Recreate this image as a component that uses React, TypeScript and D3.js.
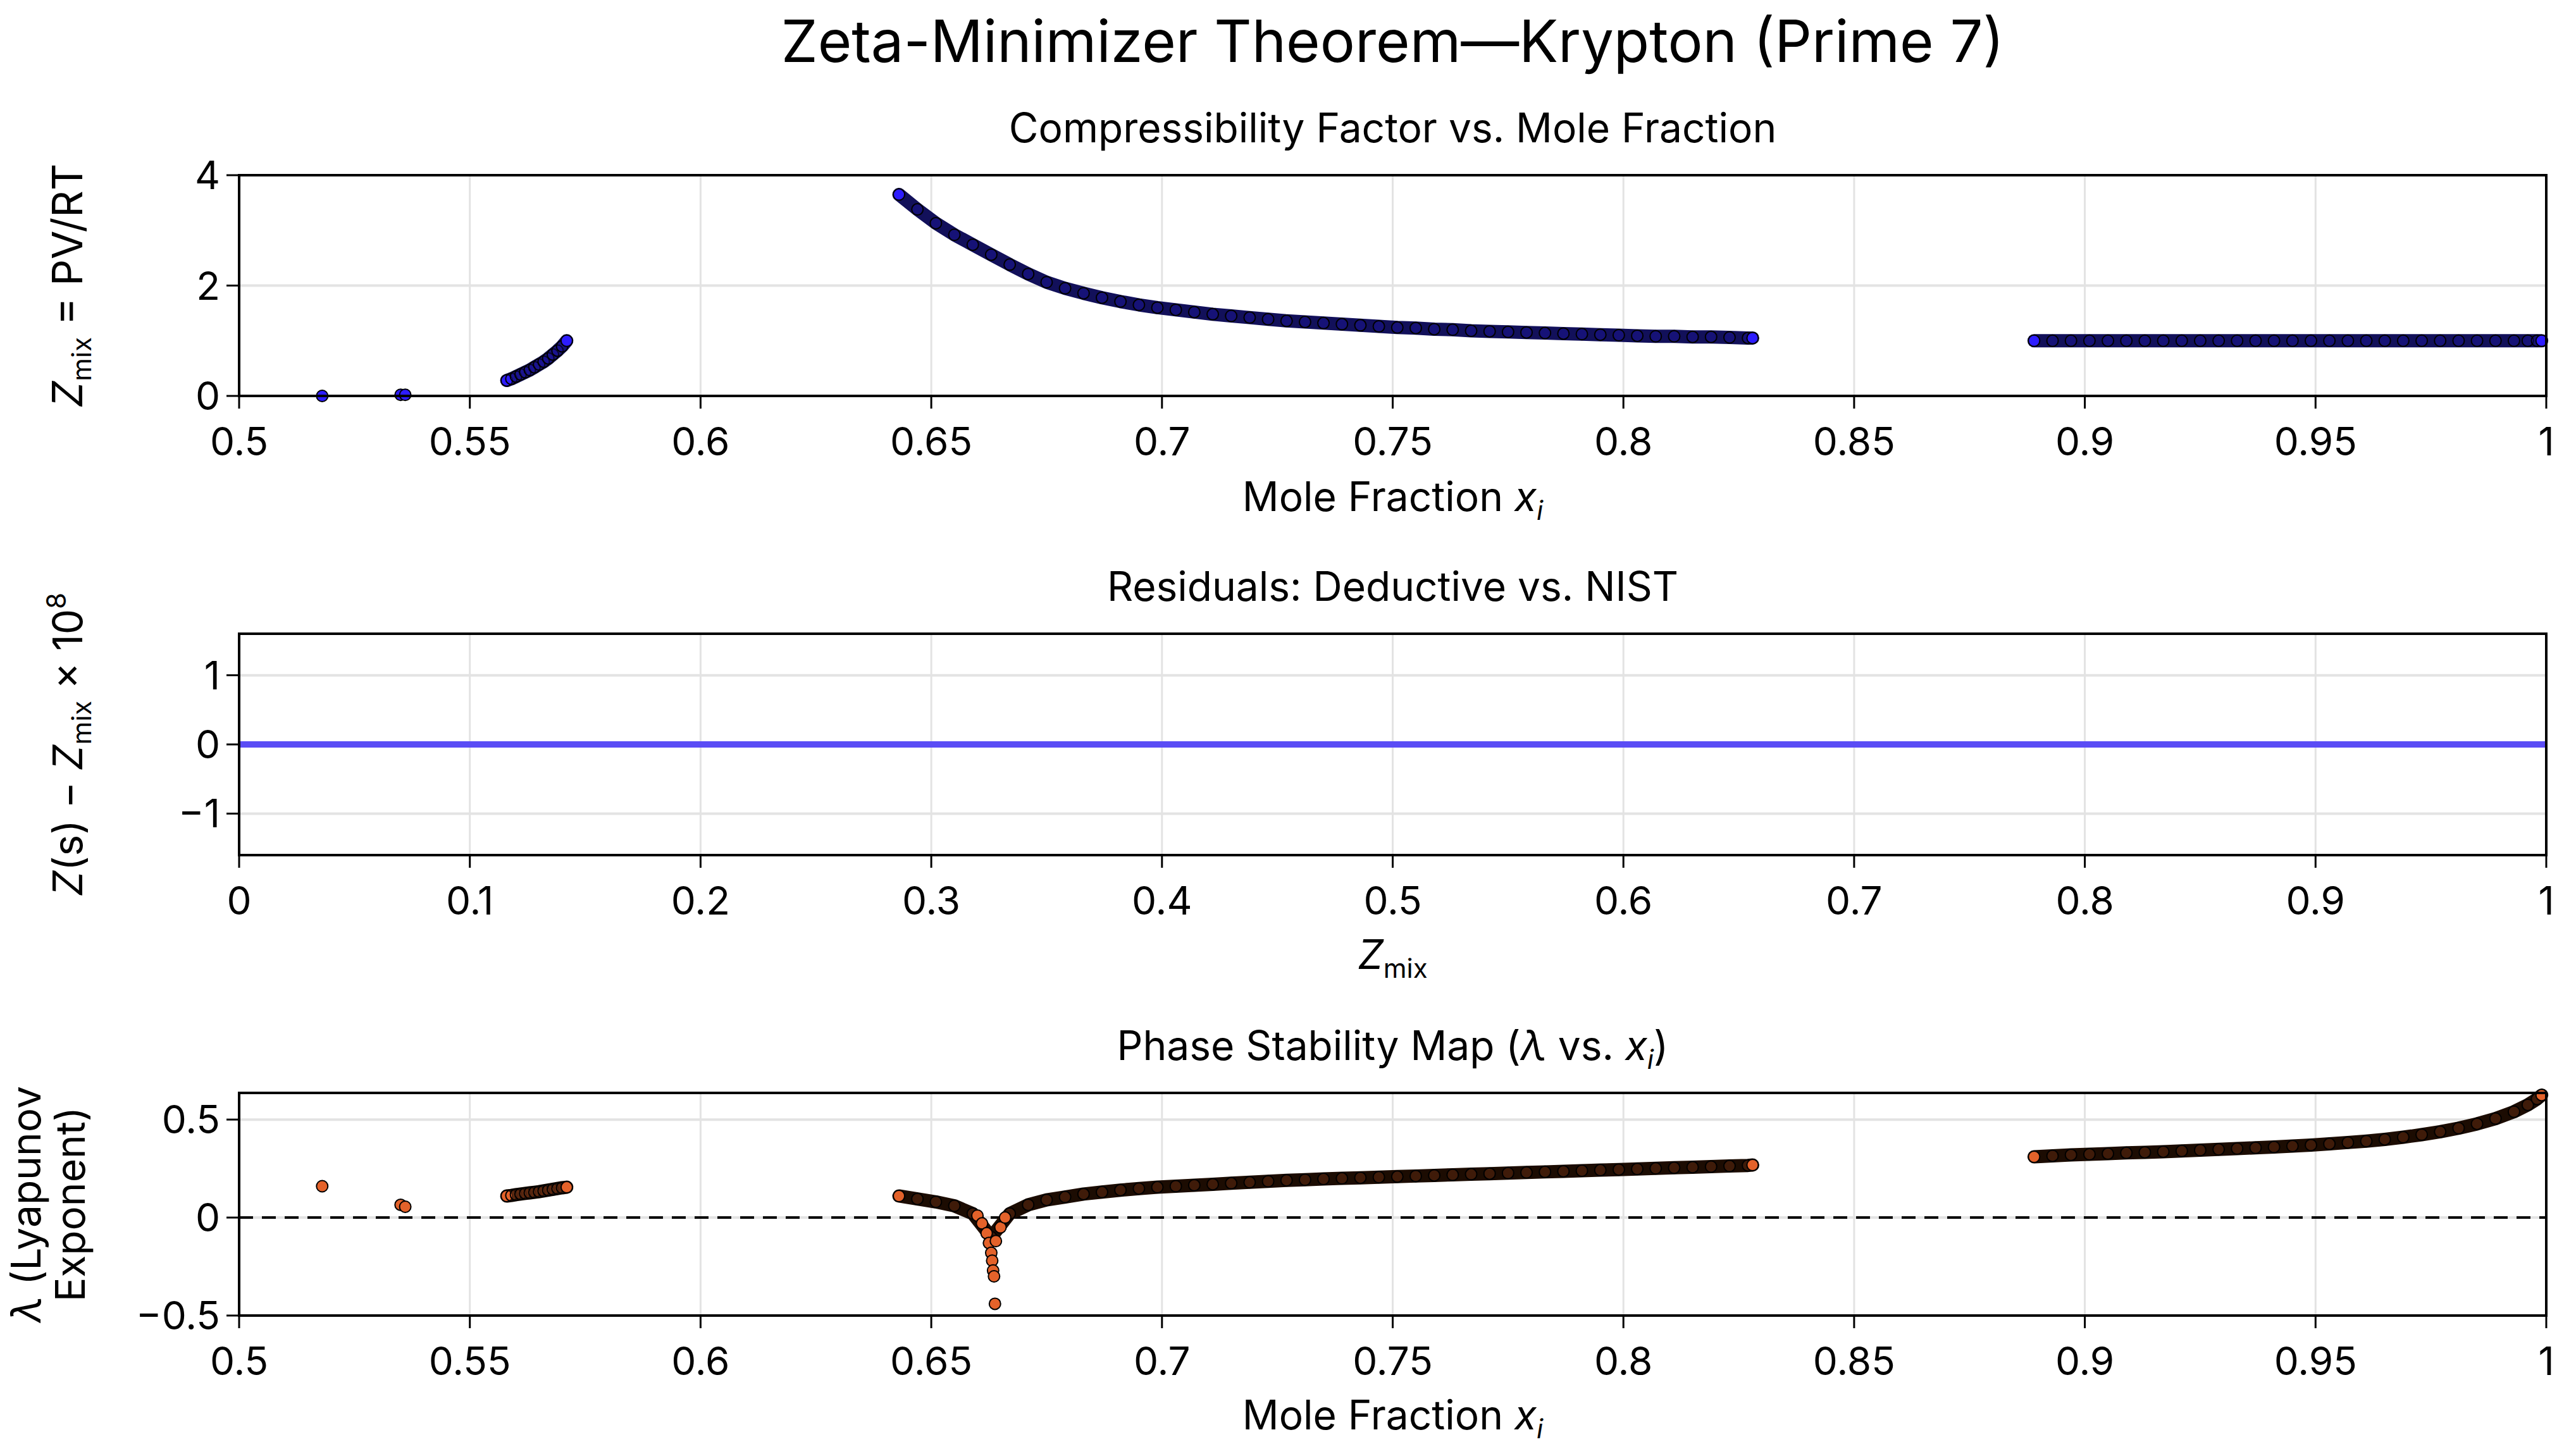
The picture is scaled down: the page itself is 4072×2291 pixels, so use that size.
import * as d3 from "d3";

// isolated points (both panels)
const isoX = [0.518, 0.535, 0.536];
const isoZ = [0.0, 0.02, 0.02];
const isoLam = [0.16, 0.065, 0.055];

// segment 2
const seg2X = [0.558, 0.559, 0.56, 0.561, 0.562, 0.563, 0.564, 0.565, 0.566, 0.567, 0.568, 0.569, 0.57, 0.571];
const seg2Z = [0.28, 0.31, 0.35, 0.39, 0.43, 0.47, 0.52, 0.57, 0.62, 0.68, 0.75, 0.82, 0.9, 1.0];
const seg2Lam = [0.11, 0.113, 0.117, 0.12, 0.123, 0.126, 0.129, 0.132, 0.136, 0.14, 0.144, 0.148, 0.152, 0.155];

// segment 3
const seg3X = [0.643, 0.647, 0.651, 0.655, 0.659, 0.663, 0.667, 0.671, 0.675, 0.679, 0.683, 0.687, 0.691, 0.695, 0.699,
  0.703, 0.707, 0.711, 0.715, 0.719, 0.723, 0.727, 0.731, 0.735, 0.739, 0.743, 0.747, 0.751, 0.755, 0.759, 0.763,
  0.767, 0.771, 0.775, 0.779, 0.783, 0.787, 0.791, 0.795, 0.799, 0.803, 0.807, 0.811, 0.815, 0.819, 0.823, 0.827, 0.828];
const seg3Z = [3.65, 3.38, 3.13, 2.92, 2.74, 2.56, 2.38, 2.21, 2.06, 1.95, 1.86, 1.78, 1.71, 1.65, 1.6,
  1.56, 1.52, 1.48, 1.45, 1.42, 1.39, 1.36, 1.34, 1.32, 1.3, 1.28, 1.26, 1.24, 1.23, 1.21, 1.2,
  1.18, 1.17, 1.16, 1.15, 1.14, 1.13, 1.12, 1.11, 1.1, 1.09, 1.08, 1.08, 1.07, 1.07, 1.06, 1.05, 1.05];
const seg3Lam = [0.11, 0.095, 0.08, 0.06, 0.02, -0.1, 0.02, 0.065, 0.09, 0.105, 0.12, 0.13, 0.14, 0.148, 0.155,
  0.16, 0.165, 0.17, 0.175, 0.18, 0.185, 0.19, 0.193, 0.197, 0.2, 0.203, 0.206, 0.209, 0.212, 0.215, 0.218,
  0.221, 0.224, 0.227, 0.23, 0.233, 0.236, 0.239, 0.242, 0.245, 0.248, 0.251, 0.254, 0.257, 0.26, 0.263, 0.266, 0.268];
const dipX = [0.66, 0.661, 0.662, 0.6625, 0.663, 0.6632, 0.6634, 0.6636, 0.6638, 0.664, 0.665, 0.666];
const dipLam = [0.01, -0.03, -0.08, -0.13, -0.18, -0.22, -0.27, -0.3, -0.44, -0.12, -0.05, 0.0];

// segment 4
const seg4X = [0.889, 0.893, 0.897, 0.901, 0.905, 0.909, 0.913, 0.917, 0.921, 0.925, 0.929, 0.933, 0.937, 0.941, 0.945,
  0.949, 0.953, 0.957, 0.961, 0.965, 0.969, 0.973, 0.977, 0.981, 0.985, 0.989, 0.993, 0.996, 0.998, 0.999];
const seg4Z = [1, 1, 1, 1, 1, 1, 1, 1, 1, 1, 1, 1, 1, 1, 1, 1, 1, 1, 1, 1, 1, 1, 1, 1, 1, 1, 1, 1, 1, 1];
const seg4Lam = [0.31, 0.315, 0.32, 0.323, 0.326, 0.33, 0.333, 0.336, 0.34, 0.344, 0.348, 0.352, 0.356, 0.36, 0.365,
  0.37, 0.376, 0.383, 0.39, 0.399, 0.41, 0.423, 0.438, 0.456, 0.478, 0.505, 0.54, 0.575, 0.605, 0.625];

const residX = [0, 1];
const residY = [0, 0];

const moleTicks = [0.5, 0.55, 0.6, 0.65, 0.7, 0.75, 0.8, 0.85, 0.9, 0.95, 1];
const moleTickLabels = ["0.5", "0.55", "0.6", "0.65", "0.7", "0.75", "0.8", "0.85", "0.9", "0.95", "1"];
const zTicks = [0, 2, 4];
const residXTicks = [0, 0.1, 0.2, 0.3, 0.4, 0.5, 0.6, 0.7, 0.8, 0.9, 1];
const residXLabels = ["0", "0.1", "0.2", "0.3", "0.4", "0.5", "0.6", "0.7", "0.8", "0.9", "1"];
const residYTicks = [-1, 0, 1];
const residYLabels = ["\u22121", "0", "1"];
const lamTicks = [-0.5, 0, 0.5];
const lamLabels = ["\u22120.5", "0", "0.5"];

const W = 4072, H = 2291;
const L = 378, R = 4025;
const FONT = "Inter, 'Noto Sans', sans-serif";
const BLUE = "#2d1cff", BLUE_DARK = "#12105a";
const ORANGE = "#e4622a", ORANGE_DARK = "#1c0c02";
const MR = 9;

type Seg = { x: number[]; y: number[] };

function Frame({ top, bottom, xs, ys, xt, xl, yt, yl }: any) {
  return (
    <g>
      {xt.map((t: number) => (
        <line key={"gx" + t} x1={xs(t)} x2={xs(t)} y1={top} y2={bottom} stroke="#e3e3e3" strokeWidth={3} />
      ))}
      {yt.map((t: number) => (
        <line key={"gy" + t} x1={L} x2={R} y1={ys(t)} y2={ys(t)} stroke="#e3e3e3" strokeWidth={4} />
      ))}
      {xt.map((t: number, i: number) => (
        <g key={"tx" + t}>
          <line x1={xs(t)} x2={xs(t)} y1={bottom} y2={bottom + 20} stroke="#000" strokeWidth={3} />
          <text x={xs(t)} y={bottom + 94} textAnchor="middle" fontSize={62} fontFamily={FONT}>{xl[i]}</text>
        </g>
      ))}
      {yt.map((t: number, i: number) => (
        <g key={"ty" + t}>
          <line x1={L - 20} x2={L} y1={ys(t)} y2={ys(t)} stroke="#000" strokeWidth={3} />
          <text x={L - 30} y={ys(t) + 22} textAnchor="end" fontSize={62} fontFamily={FONT}>{yl[i]}</text>
        </g>
      ))}
    </g>
  );
}

function Box({ top, bottom }: { top: number; bottom: number }) {
  return <rect x={L} y={top} width={R - L} height={bottom - top} fill="none" stroke="#000" strokeWidth={4} />;
}

function Dense({ segs, xs, ys, fill, dark }: { segs: Seg[]; xs: any; ys: any; fill: string; dark: string }) {
  return (
    <g>
      {segs.map((s, k) => {
        const pts = s.x.map((x, i) => [xs(x), ys(s.y[i])] as [number, number]);
        const p = d3.line()(pts) || "";
        return (
          <g key={k}>
            {s.x.length > 3 && (
              <path d={p} fill="none" stroke={dark} strokeWidth={MR * 2 + 3} strokeLinecap="round" strokeLinejoin="round" />
            )}
            {pts.map((q, i) => (
              <circle key={i} cx={q[0]} cy={q[1]} r={MR} fill={fill}
                fillOpacity={s.x.length > 3 && i !== 0 && i !== s.x.length - 1 ? 0.18 : 1}
                stroke="#000" strokeWidth={2} />
            ))}
          </g>
        );
      })}
    </g>
  );
}

export default function App() {
  const p1 = { top: 277, bottom: 626 };
  const p2 = { top: 1002, bottom: 1352 };
  const p3 = { top: 1728, bottom: 2080 };
  const xm = d3.scaleLinear().domain([0.5, 1]).range([L, R]);
  const xr = d3.scaleLinear().domain([0, 1]).range([L, R]);
  const y1 = d3.scaleLinear().domain([0, 4]).range([p1.bottom, p1.top]);
  const y2 = d3.scaleLinear().domain([-1.6, 1.6]).range([p2.bottom, p2.top]);
  const y3 = d3.scaleLinear().domain([-0.5, 0.636]).range([p3.bottom, p3.top]);
  const cx = (L + R) / 2;

  const zSegs: Seg[] = [
    { x: isoX, y: isoZ }, { x: seg2X, y: seg2Z }, { x: seg3X, y: seg3Z }, { x: seg4X, y: seg4Z },
  ];
  const lamSegs: Seg[] = [
    { x: isoX, y: isoLam }, { x: seg2X, y: seg2Lam }, { x: seg3X, y: seg3Lam }, { x: seg4X, y: seg4Lam },
  ];
  const residPath = d3.line<number>().x((d) => xr(d)).y((_, i) => y2(residY[i]))(residX) || "";

  return (
    <svg width={W} height={H} style={{ position: "absolute", left: 0, top: 0, background: "#fff" }} fontFamily={FONT}>
      <rect width={W} height={H} fill="#fff" />
      <text x={cx} y={98} textAnchor="middle" fontSize={92}>Zeta-Minimizer Theorem—Krypton (Prime 7)</text>

      {/* panel 1 */}
      <text x={cx} y={225} textAnchor="middle" fontSize={64}>Compressibility Factor vs. Mole Fraction</text>
      <Frame {...p1} xs={xm} ys={y1} xt={moleTicks} xl={moleTickLabels} yt={zTicks} yl={zTicks.map(String)} />
      <Dense segs={zSegs} xs={xm} ys={y1} fill={BLUE} dark={BLUE_DARK} />
      <Box {...p1} />
      <text x={cx} y={808} textAnchor="middle" fontSize={64}>Mole Fraction <tspan fontStyle="italic">x</tspan><tspan fontSize={42} dy={14} fontStyle="italic">i</tspan></text>
      <text transform={`translate(130, ${(p1.top + p1.bottom) / 2}) rotate(-90)`} textAnchor="middle" fontSize={66}>
        <tspan fontStyle="italic">Z</tspan><tspan fontSize={42} dy={14}>mix</tspan><tspan dy={-14}> = PV/RT</tspan>
      </text>

      {/* panel 2 */}
      <text x={cx} y={950} textAnchor="middle" fontSize={64}>Residuals: Deductive vs. NIST</text>
      <Frame {...p2} xs={xr} ys={y2} xt={residXTicks} xl={residXLabels} yt={residYTicks} yl={residYLabels} />
      <path d={residPath} stroke="#5a4cf5" strokeWidth={10} fill="none" />
      <Box {...p2} />
      <text x={cx} y={1532} textAnchor="middle" fontSize={64}>
        <tspan fontStyle="italic">Z</tspan><tspan fontSize={42} dy={14}>mix</tspan>
      </text>
      <text transform={`translate(130, ${(p2.top + p2.bottom) / 2}) rotate(-90)`} textAnchor="middle" fontSize={64}>
        <tspan fontStyle="italic">Z</tspan>(s) − <tspan fontStyle="italic">Z</tspan><tspan fontSize={42} dy={14}>mix</tspan><tspan dy={-14}> × 10</tspan><tspan fontSize={42} dy={-26}>8</tspan>
      </text>

      {/* panel 3 */}
      <text x={cx} y={1676} textAnchor="middle" fontSize={64}>Phase Stability Map (<tspan fontStyle="italic">λ</tspan> vs. <tspan fontStyle="italic">x</tspan><tspan fontSize={42} dy={14} fontStyle="italic">i</tspan><tspan dy={-14}>)</tspan></text>
      <Frame {...p3} xs={xm} ys={y3} xt={moleTicks} xl={moleTickLabels} yt={lamTicks} yl={lamLabels} />
      <line x1={L} x2={R} y1={y3(0)} y2={y3(0)} stroke="#000" strokeWidth={4} strokeDasharray="22 14" />
      <Dense segs={lamSegs} xs={xm} ys={y3} fill={ORANGE} dark={ORANGE_DARK} />
      {dipX.map((x, i) => (
        <circle key={"dip" + i} cx={xm(x)} cy={y3(dipLam[i])} r={MR} fill={ORANGE} stroke="#000" strokeWidth={2} />
      ))}
      <Box {...p3} />
      <text x={cx} y={2260} textAnchor="middle" fontSize={64}>Mole Fraction <tspan fontStyle="italic">x</tspan><tspan fontSize={42} dy={14} fontStyle="italic">i</tspan></text>
      <text transform={`translate(64, ${(p3.top + p3.bottom) / 2}) rotate(-90)`} textAnchor="middle" fontSize={64}>
        <tspan fontStyle="italic">λ</tspan> (Lyapunov
      </text>
      <text transform={`translate(134, ${(p3.top + p3.bottom) / 2}) rotate(-90)`} textAnchor="middle" fontSize={64}>Exponent)</text>
    </svg>
  );
}
